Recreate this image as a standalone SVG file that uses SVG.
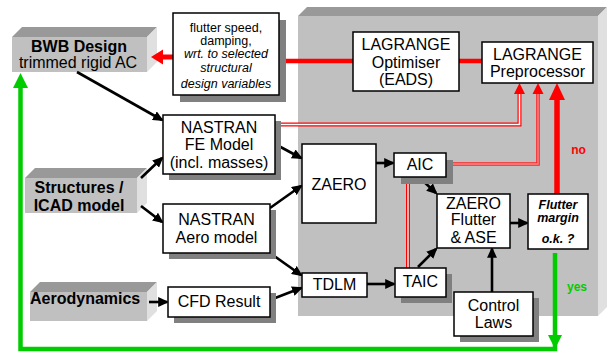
<svg xmlns="http://www.w3.org/2000/svg" width="612" height="353" viewBox="0 0 612 353">
<defs>
<style>
text{font-family:"Liberation Sans",Arial,sans-serif;fill:#000}
.t{font-size:16px;text-anchor:middle}
.b{font-weight:bold}
.s{font-size:12.5px;text-anchor:middle}
.box{fill:#fff;stroke:#000;stroke-width:1.5}
.sh{fill:#808080}
.front{fill:#c0c0c0}
.top{fill:#999}
.side{fill:#e0e0e0}
.blk{stroke:#000;stroke-width:2.6;fill:none;marker-end:url(#ah)}
</style>
<marker id="ah" viewBox="0 0 10 9" refX="8" refY="4.5" markerWidth="11" markerHeight="10" markerUnits="userSpaceOnUse" orient="auto">
<path d="M0,0 L10,4.5 L0,9 z" fill="#000"/>
</marker>
</defs>
<rect width="612" height="353" fill="#fff"/>

<g id="lagrange-area">
<polygon class="front" points="298,16 598,16 598,316 298,316"/>
<polygon class="top" points="298,16 307,7 607,7 598,16"/>
<polygon class="side" points="598,16 607,7 607,307 598,316"/>
</g>

<g id="bwb">
<polygon class="front" points="12,37 147,37 147,72 12,72"/>
<polygon class="top" points="12,37 22,27 157,27 147,37"/>
<polygon class="side" points="147,37 157,27 157,62 147,72"/>
<text class="t b" x="79" y="52">BWB Design</text>
<text class="t" x="78" y="68">trimmed rigid AC</text>
</g>

<g id="structures">
<polygon class="front" points="25,178 137,178 137,213 25,213"/>
<polygon class="top" points="25,178 35,168 147,168 137,178"/>
<polygon class="side" points="137,178 147,168 147,203 137,213"/>
<text class="t b" x="79" y="193">Structures /</text>
<text class="t b" x="79" y="211">ICAD model</text>
</g>

<g id="aerodynamics">
<polygon class="front" points="30,292 147,292 147,321 30,321"/>
<polygon class="top" points="30,292 40,282 157,282 147,292"/>
<polygon class="side" points="147,292 157,282 157,311 147,321"/>
<text class="b" x="30" y="304" font-size="16">Aerodynamics</text>
</g>

<g id="connectors">
<!-- red thick lines -->
<line x1="286" y1="61" x2="353" y2="61" stroke="#ff0000" stroke-width="4.5"/>
<line x1="459" y1="61" x2="482" y2="61" stroke="#ff0000" stroke-width="4.5"/>
<line x1="173" y1="57" x2="160" y2="57" stroke="#ff0000" stroke-width="5"/>
<polygon points="151,57 163,49.5 163,64.5" fill="#ff0000"/>
<!-- double red from FE model -->
<path d="M275,124.5 H519.5 V93" fill="none" stroke="#ff0000" stroke-width="4"/>
<path d="M275,124.5 H519.5 V93" fill="none" stroke="#fff" stroke-width="1.6"/>
<polygon points="519.5,83 514,94 525,94" fill="#ff0000"/>
<!-- pink line from AIC -->
<path d="M453,164 H538 V93" fill="none" stroke="#ff2020" stroke-width="3.6"/>
<path d="M453,164 H538 V93" fill="none" stroke="#f59090" stroke-width="1.4"/>
<polygon points="538,83 532.5,94 543.5,94" fill="#ff0000"/>
<!-- thick red from flutter margin -->
<line x1="557" y1="194" x2="557" y2="98" stroke="#ff0000" stroke-width="5.5"/>
<polygon points="557,83 549,100 565,100" fill="#ff0000"/>
<!-- double red AIC to TAIC -->
<line x1="408" y1="177" x2="408" y2="268" stroke="#ff0000" stroke-width="4"/>
<line x1="408" y1="177" x2="408" y2="268" stroke="#fff" stroke-width="1.4"/>

<!-- green loop -->
<path d="M555,253 V349 H20.5 V86" fill="none" stroke="#00cc00" stroke-width="4.5"/>
<polygon points="20.5,73 13,88 28,88" fill="#00cc00"/>
<polygon points="555,349 548,335 562,335" fill="#00cc00"/>

<!-- black arrows -->
<line class="blk" x1="77" y1="72" x2="162" y2="120"/>
<line class="blk" x1="141" y1="178" x2="162" y2="158"/>
<line class="blk" x1="141" y1="206" x2="162" y2="222"/>
<line class="blk" x1="275" y1="144" x2="301" y2="158"/>
<line class="blk" x1="270" y1="208" x2="301" y2="186"/>
<line class="blk" x1="270" y1="253" x2="301" y2="275"/>
<line class="blk" x1="270" y1="300" x2="301" y2="288"/>
<line class="blk" x1="149" y1="302" x2="167" y2="302"/>
<line class="blk" x1="376" y1="163" x2="393" y2="163"/>
<line class="blk" x1="367" y1="284" x2="394" y2="284"/>
<line class="blk" x1="422" y1="180" x2="436" y2="193"/>
<line class="blk" x1="418" y1="267" x2="436" y2="249"/>
<line class="blk" x1="492" y1="292" x2="492" y2="249"/>
<line class="blk" x1="510" y1="223" x2="527" y2="223"/>
</g>

<g id="flutter-speed">
<rect class="sh" x="180" y="20" width="106" height="82"/>
<rect class="box" x="173" y="13" width="106" height="82"/>
<text class="s" x="226" y="32">flutter speed,</text>
<text class="s" x="226" y="45">damping,</text>
<text class="s" x="226" y="58" font-style="italic">wrt. to selected</text>
<text class="s" x="226" y="72" font-style="italic">structural</text>
<text class="s" x="226" y="88" font-style="italic">design variables</text>
</g>

<g id="optimiser">
<rect class="box" x="353" y="32" width="106" height="59"/>
<text class="t" x="406" y="50">LAGRANGE</text>
<text class="t" x="406" y="68">Optimiser</text>
<text class="t" x="406" y="85">(EADS)</text>
</g>

<g id="preprocessor">
<rect class="box" x="482" y="42" width="111" height="41"/>
<text class="t" x="537.5" y="60">LAGRANGE</text>
<text class="t" x="537.5" y="77">Preprocessor</text>
</g>

<g id="nastran-fe">
<rect class="sh" x="169" y="121" width="112" height="59"/>
<rect class="box" x="163" y="115" width="112" height="59"/>
<text class="t" x="219" y="133">NASTRAN</text>
<text class="t" x="219" y="150">FE Model</text>
<text class="t" x="219" y="168">(incl. masses)</text>
</g>

<g id="nastran-aero">
<rect class="sh" x="169" y="210" width="107" height="49"/>
<rect class="box" x="163" y="204" width="107" height="49"/>
<text class="t" x="216.5" y="225">NASTRAN</text>
<text class="t" x="216.5" y="243">Aero model</text>
</g>

<g id="cfd">
<rect class="sh" x="174" y="293" width="102" height="30"/>
<rect class="box" x="168" y="287" width="102" height="30"/>
<text class="t" x="219" y="307">CFD Result</text>
</g>

<g id="zaero">
<rect class="box" x="302" y="144" width="74" height="79"/>
<text class="t" x="339" y="190">ZAERO</text>
</g>

<g id="aic">
<rect class="sh" x="401" y="160" width="52" height="24"/>
<rect class="box" x="394" y="153" width="52" height="24"/>
<text class="t" x="420" y="170">AIC</text>
</g>

<g id="zaero-flutter">
<rect class="box" x="437" y="194" width="73" height="54"/>
<text class="t" x="473.5" y="209">ZAERO</text>
<text class="t" x="473.5" y="225">Flutter</text>
<text class="t" x="473.5" y="243">&amp; ASE</text>
</g>

<g id="flutter-margin">
<rect class="box" x="528" y="194" width="60" height="55"/>
<text class="s b" x="558" y="209" font-style="italic">Flutter</text>
<text class="s b" x="558" y="222" font-style="italic">margin</text>
<text class="s b" x="558" y="243" font-style="italic">o.k. ?</text>
</g>

<g id="tdlm">
<rect class="box" x="302" y="273" width="65" height="24"/>
<text class="t" x="334.5" y="290">TDLM</text>
</g>

<g id="taic">
<rect class="sh" x="401" y="274" width="51" height="29"/>
<rect class="box" x="395" y="268" width="51" height="29"/>
<text class="t" x="420.5" y="287">TAIC</text>
</g>

<g id="control-laws">
<rect class="sh" x="460" y="298" width="79" height="44"/>
<rect class="box" x="454" y="292" width="79" height="44"/>
<text class="t" x="493.5" y="311">Control</text>
<text class="t" x="493.5" y="328">Laws</text>
</g>

<g id="labels">
<text class="b" x="578.5" y="154" font-size="12" text-anchor="middle" style="fill:#ff0000">no</text>
<text class="b" x="577" y="291" font-size="12" text-anchor="middle" style="fill:#00cc00">yes</text>
</g>
</svg>
